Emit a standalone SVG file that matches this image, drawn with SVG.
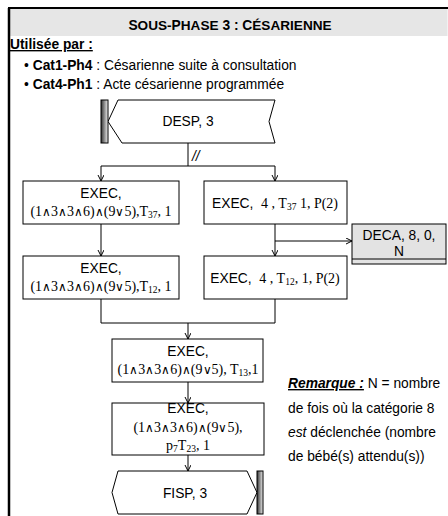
<svg xmlns="http://www.w3.org/2000/svg" width="448" height="516" viewBox="0 0 448 516">
<style>
.a{font-family:"Liberation Sans",Arial,sans-serif;font-size:13.8px;fill:#000}
.t{font-family:"Liberation Serif","DejaVu Serif",serif;font-size:14px;fill:#000}
.w{font-family:"DejaVu Sans",sans-serif;font-size:12px;font-weight:200}
.box{fill:#fff;stroke:#000;stroke-width:1}
.ln{fill:none;stroke:#000;stroke-width:1}
</style>
<defs>
<marker id="ar" markerWidth="8" markerHeight="8" refX="6" refY="3" orient="auto" markerUnits="userSpaceOnUse">
<path d="M0,0 L6,3 L0,6" fill="none" stroke="#000" stroke-width="1"/>
</marker>
<linearGradient id="bar" x1="0" y1="0" x2="1" y2="0">
<stop offset="0" stop-color="#333"/>
<stop offset="1" stop-color="#eee"/>
</linearGradient>
</defs>

<g id="frame">
<rect x="10" y="9" width="437.5" height="27" fill="#e6e6e6"/>
<line x1="9" y1="8" x2="9" y2="516" stroke="#000" stroke-width="2.5"/>
<line x1="8" y1="8" x2="448" y2="8" stroke="#000" stroke-width="2"/>
<text x="230" y="30" text-anchor="middle" class="a" font-weight="bold" font-size="17.3">S<tspan font-size="13.6">OUS-</tspan>P<tspan font-size="13.6">HASE</tspan> 3 : C<tspan font-size="13.6">ÉSARIENNE</tspan></text>
<text x="10" y="49" class="a" font-weight="bold" font-size="14.5" text-decoration="underline">Utilisée par :</text>
<text x="24" y="70" class="a">• <tspan font-weight="bold">Cat1-Ph4</tspan> : Césarienne suite à consultation</text>
<text x="24" y="89" class="a">• <tspan font-weight="bold">Cat4-Ph1</tspan> : Acte césarienne programmée</text>
</g>

<g id="connectors">
<line class="ln" x1="188" y1="143" x2="188" y2="166"/>
<line class="ln" x1="101" y1="166" x2="275" y2="166"/>
<line class="ln" x1="101" y1="166" x2="101" y2="181" marker-end="url(#ar)"/>
<line class="ln" x1="275" y1="166" x2="275" y2="181" marker-end="url(#ar)"/>
<text x="192" y="161" class="a" font-size="11" font-style="italic">//</text>
<line class="ln" x1="101" y1="224" x2="101" y2="256" marker-end="url(#ar)"/>
<line class="ln" x1="275" y1="224" x2="275" y2="256" marker-end="url(#ar)"/>
<line class="ln" x1="275" y1="241" x2="352" y2="241" marker-end="url(#ar)"/>
<line class="ln" x1="101" y1="299" x2="101" y2="323"/>
<line class="ln" x1="275" y1="299" x2="275" y2="323"/>
<line class="ln" x1="101" y1="323" x2="275" y2="323"/>
<line class="ln" x1="188" y1="323" x2="188" y2="339" marker-end="url(#ar)"/>
<line class="ln" x1="188" y1="382" x2="188" y2="403" marker-end="url(#ar)"/>
<line class="ln" x1="188" y1="455" x2="188" y2="471" marker-end="url(#ar)"/>
</g>

<g id="desp">
<polygon class="box" points="108,121.5 118,100 275,100 269,121.5 275,143 122,143"/>
<rect x="101" y="100" width="7" height="43" fill="url(#bar)" stroke="#000"/>
<text x="188" y="126" text-anchor="middle" class="a">DESP, 3</text>
</g>

<g id="execL1">
<rect class="box" x="23" y="181" width="156" height="43" stroke-width="2"/>
<text x="101" y="198" text-anchor="middle" class="a">EXEC,</text>
<text x="101" y="216" text-anchor="middle" class="t">(1<tspan class="w">∧</tspan>3<tspan class="w">∧</tspan>3<tspan class="w">∧</tspan>6)<tspan class="w">∧</tspan>(9<tspan class="w">∨</tspan>5),T<tspan font-size="9.5" dy="2">37</tspan><tspan dy="-2">, 1</tspan></text>
</g>

<g id="execR1">
<rect class="box" x="204" y="181" width="143" height="43"/>
<text x="275" y="208" text-anchor="middle" class="a">EXEC,&#160; <tspan class="t">4 , T<tspan font-size="9.5" dy="2">37</tspan><tspan dy="-2"> 1, P(2)</tspan></tspan></text>
</g>

<g id="deca">
<rect x="352" y="224" width="94" height="40" fill="#e3e3e3" stroke="#000"/>
<line class="ln" x1="352" y1="259" x2="446" y2="259"/>
<text x="399" y="240" text-anchor="middle" class="a">DECA, 8, 0,</text>
<text x="399" y="256" text-anchor="middle" class="a">N</text>
</g>

<g id="execL2">
<rect class="box" x="23" y="256" width="156" height="43"/>
<text x="101" y="273" text-anchor="middle" class="a">EXEC,</text>
<text x="101" y="291" text-anchor="middle" class="t">(1<tspan class="w">∧</tspan>3<tspan class="w">∧</tspan>3<tspan class="w">∧</tspan>6)<tspan class="w">∧</tspan>(9<tspan class="w">∨</tspan>5),T<tspan font-size="9.5" dy="2">12</tspan><tspan dy="-2">, 1</tspan></text>
</g>

<g id="execR2">
<rect class="box" x="204" y="256" width="143" height="43"/>
<text x="275" y="283" text-anchor="middle" class="a">EXEC,&#160; <tspan class="t">4 , T<tspan font-size="9.5" dy="2">12</tspan><tspan dy="-2">, 1, P(2)</tspan></tspan></text>
</g>

<g id="exec3">
<rect class="box" x="112" y="339" width="151" height="43"/>
<text x="188" y="356" text-anchor="middle" class="a">EXEC,</text>
<text x="188" y="374" text-anchor="middle" class="t">(1<tspan class="w">∧</tspan>3<tspan class="w">∧</tspan>3<tspan class="w">∧</tspan>6)<tspan class="w">∧</tspan>(9<tspan class="w">∨</tspan>5), T<tspan font-size="9.5" dy="2">13</tspan><tspan dy="-2">,1</tspan></text>
</g>

<g id="exec4">
<rect class="box" x="112" y="403" width="152" height="52"/>
<text x="188" y="413" text-anchor="middle" class="a">EXEC,</text>
<text x="188" y="432" text-anchor="middle" class="t">(1<tspan class="w">∧</tspan>3<tspan class="w">∧</tspan>3<tspan class="w">∧</tspan>6)<tspan class="w">∧</tspan>(9<tspan class="w">∨</tspan>5),</text>
<text x="188" y="450" text-anchor="middle" class="t">p<tspan font-size="9.5" dy="2">7</tspan><tspan dy="-2">T</tspan><tspan font-size="9.5" dy="2">23</tspan><tspan dy="-2">, 1</tspan></text>
</g>

<g id="fisp">
<polygon class="box" points="118,471 247,471 257,492.5 247,514 118,514 112,492.5"/>
<rect x="257" y="471" width="6" height="43" fill="url(#bar)" stroke="#000"/>
<text x="185" y="498" text-anchor="middle" class="a">FISP, 3</text>
</g>

<g id="remarque">
<text x="288" y="388" class="a" font-size="14"><tspan font-weight="bold" font-style="italic" text-decoration="underline">Remarque :</tspan> N = nombre</text>
<text x="288" y="413" class="a" font-size="14">de fois où la catégorie 8</text>
<text x="288" y="437" class="a" font-size="14"><tspan font-style="italic">est</tspan> déclenchée (nombre</text>
<text x="288" y="461" class="a" font-size="14">de bébé(s) attendu(s))</text>
</g>
</svg>
